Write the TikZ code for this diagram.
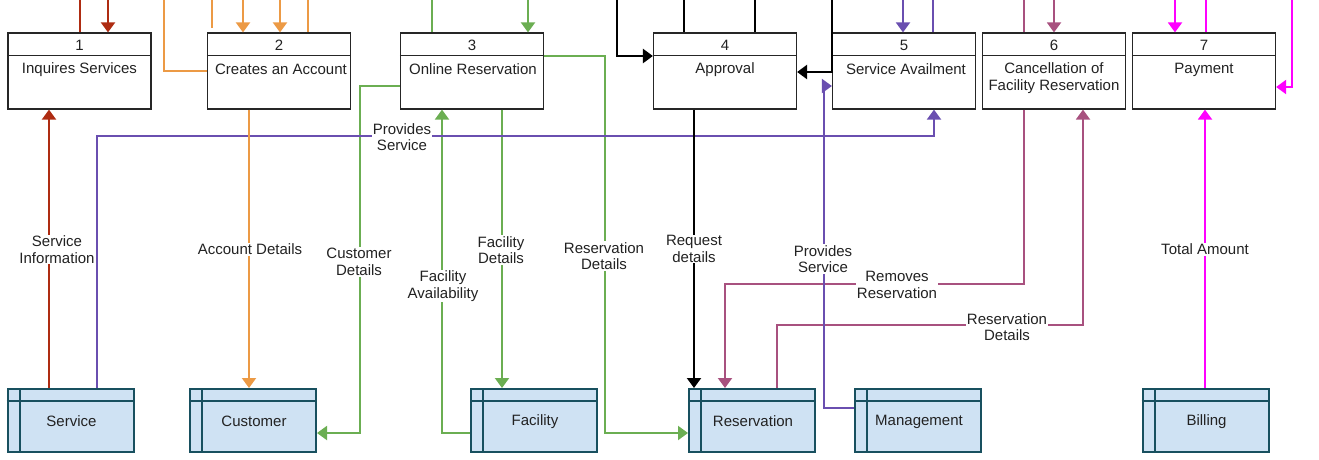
\documentclass[tikz,border=0pt]{standalone}
\usepackage{fontspec}
\setmainfont{Liberation Sans}
\usetikzlibrary{arrows.meta}
\definecolor{redc}{HTML}{AE2C12}
\definecolor{orangec}{HTML}{EC9A45}
\definecolor{greenc}{HTML}{6BAE52}
\definecolor{purplec}{HTML}{6A4FB0}
\definecolor{mauvec}{HTML}{A8517F}
\definecolor{magc}{HTML}{FF00FF}
\definecolor{storefill}{HTML}{CFE2F3}
\definecolor{storeline}{HTML}{18505F}
\definecolor{txt}{HTML}{222222}
\tikzset{
  every node/.style={font=\fontsize{15}{16.5}\selectfont, text=txt},
  proc/.style={draw=black!85, line width=1.2pt, fill=white, minimum width=143pt, minimum height=76pt, inner sep=0pt},
  store/.style={draw=storeline, fill=storefill, line width=2pt, minimum width=126pt, minimum height=63pt, inner sep=0pt},
  flow/.style={line width=2pt},
  blk/.style={line width=2.5pt, black},
  arr/.style={-{Triangle[length=10pt 0,width=14pt 0]}},
  lbl/.style={fill=white, inner sep=1pt, align=center},
}
\begin{document}
\begin{tikzpicture}[x=1pt,y=-1pt]
\useasboundingbox (0,0) rectangle (1319,459);

% process boxes
\foreach \n/\cx in {1/79.5,2/279,3/472,4/725,5/904,6/1054,7/1204}{
  \node[proc] (p\n) at (\cx,71) {};
  \draw[line width=1.2pt, black!85] (p\n.north west) ++(0,23) -- ++(143,0);
  \node (n\n) at (\cx,45) {\n};
}
\node (t1) at (79.5,69.5) {Inquires Services};
\node (t2) at (281,69.5) {Creates an Account};
\node (t3) at (473,69.5) {Online Reservation};
\node (t4) at (725,69.5) {Approval};
\node (t5) at (906,69.5) {Service Availment};
\node[align=center] (t6) at (1054,78) {Cancellation of\\Facility Reservation};
\node (t7) at (1204,69.5) {Payment};

% data stores
\foreach \n/\cx/\lab in {1/70.5/Service,2/253/Customer,3/534/Facility,4/752/Reservation,5/918/Management,6/1205.5/Billing}{
  \node[store] (d\n) at (\cx,420.5) {};
  \draw[line width=2pt, storeline] (d\n.north west) ++(0,13) -- ++(126,0);
  \draw[line width=2pt, storeline] (d\n.north west) ++(13,0) -- ++(0,63);
  \node (s\n) at (\cx+1,421.5) {\lab};
}

% red
\coordinate (ra) at (80,0);
\coordinate (rb) at (108,0);
\draw[flow,redc] (ra) -- (ra |- p1.north);
\draw[flow,redc,arr] (rb) -- (rb |- p1.north);
\draw[flow,redc,arr] (d1.north -| 49,0) -- (p1.south -| 49,0);

% orange
\coordinate (oa) at (164,0);
\coordinate (ob) at (212,0);
\coordinate (ob2) at (212,28);
\coordinate (oc) at (243,0);
\coordinate (od) at (280,0);
\coordinate (oe) at (308,0);
\draw[flow,orangec] (oa) |- (p2.west |- 0,71);
\draw[flow,orangec] (ob) -- (ob2);
\draw[flow,orangec,arr] (oc) -- (oc |- p2.north);
\draw[flow,orangec,arr] (od) -- (od |- p2.north);
\draw[flow,orangec] (oe) -- (oe |- p2.north);
\draw[flow,orangec,arr] (p2.south -| 249,0) -- (d2.north -| 249,0);

% green
\coordinate (ga) at (432,0);
\coordinate (gb) at (528,0);
\draw[flow,greenc] (ga) -- (ga |- p3.north);
\draw[flow,greenc,arr] (gb) -- (gb |- p3.north);
\draw[flow,greenc,arr] (p3.east |- 0,56) -- (605,56) -- (605,433) -- (d4.west |- 0,433);
\draw[flow,greenc,arr] (p3.west |- 0,86) -- (360,86) -- (360,433) -- (d2.east |- 0,433);
\draw[flow,greenc,arr] (p3.south -| 502,0) -- (d3.north -| 502,0);
\draw[flow,greenc,arr] (d3.west |- 0,433) -- (442,433) -- (p3.south -| 442,0);

% mauve
\coordinate (ma) at (1024,0);
\coordinate (mb) at (1054,0);
\draw[flow,mauvec] (ma) -- (ma |- p6.north);
\draw[flow,mauvec,arr] (mb) -- (mb |- p6.north);
\draw[flow,mauvec,arr] (p6.south -| 1024,0) -- (1024,284) -- (725,284) -- (d4.north -| 725,0);
\draw[flow,mauvec,arr] (d4.north -| 777,0) -- (777,325) -- (1083,325) -- (p6.south -| 1083,0);

% purple
\coordinate (ua) at (903,0);
\coordinate (ub) at (933,0);
\draw[flow,purplec,arr] (ua) -- (ua |- p5.north);
\draw[flow,purplec] (ub) -- (ub |- p5.north);
\draw[flow,purplec,arr] (d1.north -| 97,0) -- (97,136) -- (934,136) -- (p5.south -| 934,0);
\draw[flow,purplec,arr] (d5.west |- 0,408) -- (824,408) -- (824,86) -- (p5.west |- 0,86);

% orange over purple
\draw[flow,orangec] (249,125) -- (249,147);

% black
\coordinate (ka) at (617,0);
\coordinate (kb) at (684,0);
\coordinate (kc) at (755,0);
\coordinate (kd) at (832,0);
\draw[blk,arr] (ka) -- (617,56) -- (p4.west |- 0,56);
\draw[blk] (kb) -- (kb |- p4.north);
\draw[blk] (kc) -- (kc |- p4.north);
\draw[blk,arr] (kd) -- (832,72) -- (p4.east |- 0,72);
\draw[flow,black,arr] (p4.south -| 694,0) -- (d4.north -| 694,0);

% magenta
\coordinate (na) at (1175,0);
\coordinate (nb) at (1206,0);
\coordinate (nc) at (1292,0);
\draw[flow,magc,arr] (na) -- (na |- p7.north);
\draw[flow,magc] (nb) -- (nb |- p7.north);
\draw[flow,magc,arr] (nc) -- (1292,87) -- (p7.east |- 0,87);
\draw[flow,magc,arr] (d6.north -| 1205,0) -- (p7.south -| 1205,0);

% labels
\node[lbl] (l1) at (57,249.5) {Service\\Information};
\node[lbl] (l2) at (250,249) {Account Details};
\node[lbl] (l3) at (359,262) {Customer\\Details};
\node[lbl] (l4) at (443,286) {Facility\\Availability};
\node[lbl] (l5) at (501,250) {Facility\\Details};
\node[lbl] (l6) at (604,256) {Reservation\\Details};
\node[lbl] (l7) at (694,249) {Request\\details};
\node[lbl] (l8) at (823,259) {Provides\\Service};
\node[lbl] (l9) at (897,285) {Removes\\Reservation};
\node[lbl] (l10) at (1007,327) {Reservation\\Details};
\node[lbl] (l11) at (1205,249) {Total Amount};
\node[lbl] (l12) at (402,137) {Provides\\Service};
\end{tikzpicture}
\end{document}
